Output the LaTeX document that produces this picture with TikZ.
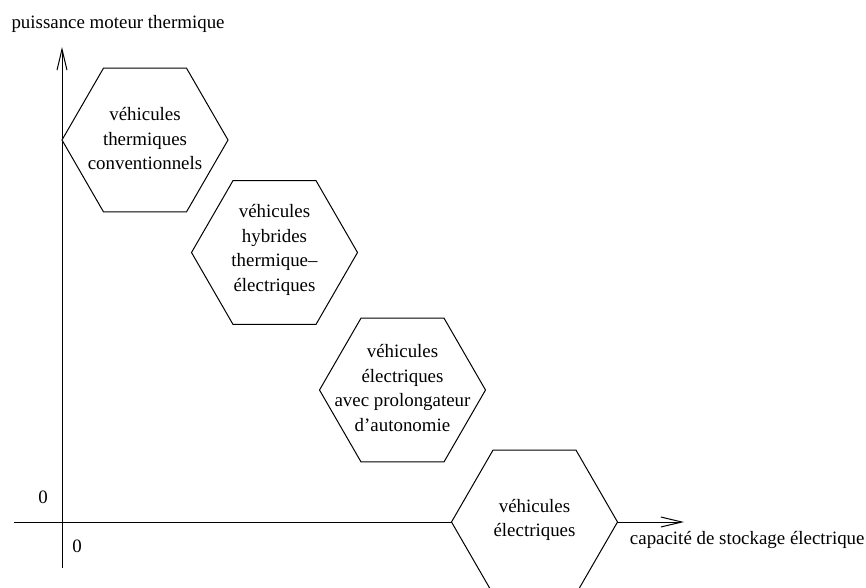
\documentclass[tikz,border=0pt]{standalone}
\usepackage{fontspec}
\setmainfont{Liberation Serif}
\usetikzlibrary{shapes.geometric,arrows.meta}
\begin{document}
\begin{tikzpicture}[x=1pt,y=-1pt,line width=1pt,
  hexa/.style={draw,fill=white,regular polygon,regular polygon sides=6,minimum size=166pt,inner sep=0pt},
  txt/.style={align=center,inner sep=0pt,font=\fontsize{18.9}{24.5}\selectfont},
  lbl/.style={inner sep=0pt,font=\fontsize{18.9}{24.5}\selectfont},
  axis/.style={-{Straight Barb[length=21pt,width=10pt,line width=1pt]}}]
\clip (0,0) rectangle (866,587);
\useasboundingbox (0,0) rectangle (866,587);
% axes
\coordinate (ybot) at (62,568);
\coordinate (ytop) at (62,47);
\coordinate (xleft) at (14,522);
\coordinate (xright) at (684,522);
\draw[axis] (ybot) -- (ytop);
\draw[axis] (xleft) -- (xright);
% hexagons
\node[hexa] (h1) at (145,140) {};
\node[hexa] (h2) at (274.5,252.5) {};
\node[hexa] (h3) at (402.5,390) {};
\node[hexa] (h4) at (534.5,522) {};
\node[txt] (t1) at (145,139) {véhicules\\thermiques\\conventionnels};
\node[txt] (t2) at (274.5,250) {véhicules\\hybrides\\thermique--\\électriques};
\node[txt] (t3) at (402.5,388) {véhicules\\électriques\\avec prolongateur\\d’autonomie};
\node[txt] (t4) at (534.5,520) {véhicules\\électriques};
% labels
\node[lbl,anchor=west] (ly) at (11,24) {puissance moteur thermique};
\node[lbl,anchor=east] (lx) at (865,540) {capacité de stockage électrique};
\node[lbl] (z1) at (43,497) {0};
\node[lbl] (z2) at (77,546) {0};
\end{tikzpicture}
\end{document}
